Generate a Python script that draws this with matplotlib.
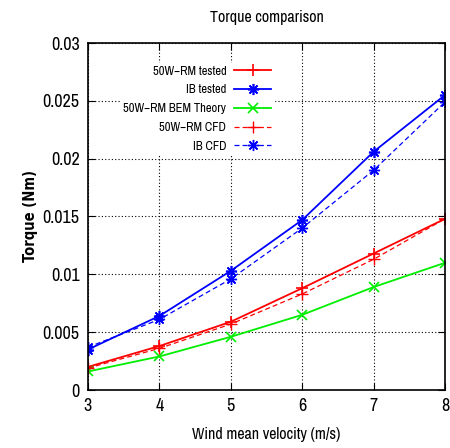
import matplotlib
matplotlib.use("Agg")
import matplotlib.pyplot as plt

plt.rcParams['font.family'] = ['Liberation Sans Narrow', 'Archivo Narrow', 'PT Sans Narrow', 'DejaVu Sans']

wind = [3, 4, 5, 6, 7, 8]
rm_tested = [0.0020, 0.0038, 0.0059, 0.0088, 0.0118, 0.0148]
ib_tested = [0.0035, 0.0064, 0.0103, 0.0147, 0.0206, 0.0255]
rm_bem = [0.0016, 0.0029, 0.0046, 0.0065, 0.0089, 0.0110]
rm_cfd = [0.0019, 0.0036, 0.0057, 0.0083, 0.0113, 0.0148]
ib_cfd = [0.0037, 0.0061, 0.0096, 0.0140, 0.0190, 0.0249]

yticks = [0, 0.005, 0.01, 0.015, 0.02, 0.025, 0.03]
ylabels = ["0", "0.005", "0.01", "0.015", "0.02", "0.025", "0.03"]

star = (8, 2, 0)

fig = plt.figure(figsize=(4.5, 4.48), dpi=100)
ax = fig.add_axes([88 / 450, 58 / 448, 357 / 450, 347 / 448])

ax.plot(wind, rm_tested, color="#ff0000", lw=1.3, marker="+", ms=8, mew=1.2, label="50W\u2212RM tested")
ax.plot(wind, ib_tested, color="#0000ff", lw=1.3, marker=star, ms=8, mew=1.2, label="IB tested")
ax.plot(wind, rm_bem, color="#00ee00", lw=1.3, marker="x", ms=7, mew=1.2, label="50W\u2212RM BEM Theory")
ax.plot(wind, rm_cfd, color="#ff0000", lw=0.9, ls=(0, (4, 2.5)), marker="+", ms=8, mew=1.0, label="50W\u2212RM CFD")
ax.plot(wind, ib_cfd, color="#0000ff", lw=0.9, ls=(0, (4, 2.5)), marker=star, ms=8, mew=1.0, label="IB CFD")

ax.set_xlim(3, 8)
ax.set_ylim(0, 0.03)
ax.set_xticks(wind)
ax.set_yticks(yticks)
ax.set_yticklabels(ylabels)
ax.tick_params(direction="in", top=True, right=True, length=5, labelsize=13, pad=6)
ax.grid(True, color="black", ls=(0, (1, 2)), lw=0.8)
for s in ax.spines.values():
    s.set_linewidth(1.2)

ax.set_title("Torque comparison", fontsize=11.5, pad=15)
ax.set_xlabel("Wind mean velocity (m/s)", fontsize=11.5, labelpad=9)
ax.set_ylabel("Torque (Nm)", family=["DejaVu Sans"], fontstretch="condensed",
              fontsize=10.5, fontweight="bold", labelpad=3)

leg = ax.legend(loc="upper right", bbox_to_anchor=(0.538, 0.96), markerfirst=False,
                frameon=True, fontsize=9, handlelength=3.0, numpoints=1,
                labelspacing=0.62, borderpad=0.2, handletextpad=0.6)
leg.get_frame().set_edgecolor("white")
leg.get_frame().set_alpha(1)
leg.get_frame().set_boxstyle("square", pad=0)
for t in leg.get_texts():
    t.set_ha("right")

fig.savefig("out.png", dpi=100)
